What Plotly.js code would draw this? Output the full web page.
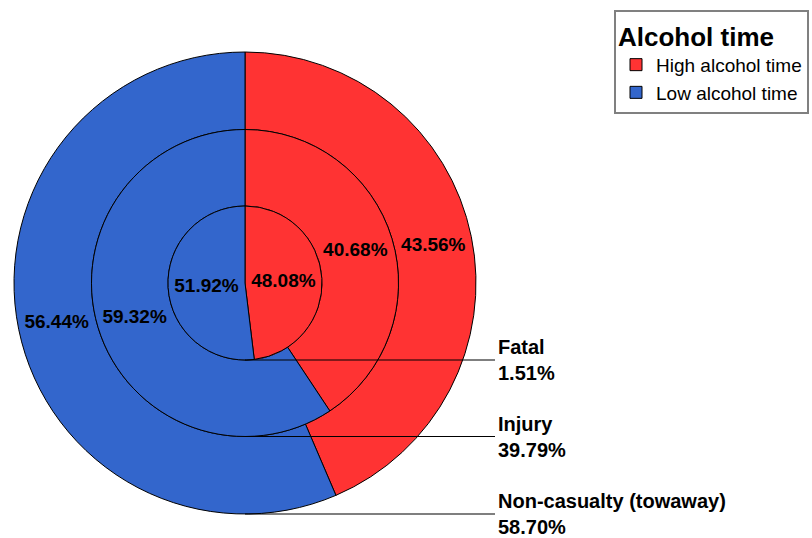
<!DOCTYPE html>
<html>
<head>
<meta charset="utf-8">
<script src="https://cdn.plot.ly/plotly-3.0.1.min.js"></script>
<style>html,body{margin:0;padding:0;background:#fff;}#chart{width:812px;height:538px;}</style>
</head>
<body>
<div id="chart"></div>
<script>
// ---- data ----
const rings = ['Fatal', 'Injury', 'Non-casualty (towaway)'];
const ringShare = [1.51, 39.79, 58.70];
const groups = ['High alcohol time', 'Low alcohol time'];
const highShare = [48.08, 40.68, 43.56];
const lowShare = [51.92, 59.32, 56.44];
const legendTitle = 'Alcohol time';

// ---- style / geometry ----
const W = 812, H = 538;
const CX = 245, CY = 283;          // pie centre in px
const RADII = [77, 153.5, 231];    // inner, middle, outer circle radius in px
const COLORS = ['#FF3333', '#3366CC'];
const FONT = 'Liberation Sans, Arial, sans-serif';

function domainFor(r) {
  return {
    x: [(CX - r) / W, (CX + r) / W],
    y: [1 - (CY + r) / H, 1 - (CY - r) / H]
  };
}

const traces = [];
for (let i = rings.length - 1; i >= 0; i--) {
  const r = RADII[i];
  const inner = i > 0 ? RADII[i - 1] : 0;
  traces.push({
    type: 'pie',
    name: rings[i],
    labels: groups,
    values: [highShare[i], lowShare[i]],
    sort: false,
    direction: 'clockwise',
    rotation: 0,
    hole: inner / r,
    domain: domainFor(r),
    marker: { colors: COLORS, line: { color: '#000000', width: 1 } },
    texttemplate: '%{value:.2f}%',
    textposition: 'inside',
    insidetextorientation: 'horizontal',
    insidetextfont: { family: FONT, size: 19, color: '#000000', weight: 'bold' },
    hoverinfo: 'skip',
    showlegend: true
  });
}

const shapes = [];
const annotations = [];
const LABEL_X = 496;
for (let i = 0; i < rings.length; i++) {
  const yb = CY + RADII[i];
  shapes.push({
    type: 'line', xref: 'paper', yref: 'paper',
    x0: CX / W, x1: (LABEL_X - 1) / W,
    y0: 1 - yb / H, y1: 1 - yb / H,
    line: { color: '#000000', width: 1.2 }
  });
  annotations.push({
    xref: 'paper', yref: 'paper',
    x: LABEL_X / W, y: 1 - yb / H,
    xanchor: 'left', yanchor: 'middle', align: 'left',
    showarrow: false,
    text: '<b>' + rings[i] + '</b><br><b>' + ringShare[i].toFixed(2) + '%</b>',
    font: { family: FONT, size: 20, color: '#000000' }
  });
}

const layout = {
  width: W, height: H,
  margin: { l: 0, r: 0, t: 0, b: 0 },
  paper_bgcolor: '#ffffff',
  plot_bgcolor: '#ffffff',
  showlegend: true,
  legend: {
    x: 614 / W, y: 1 - 10 / H, xanchor: 'left', yanchor: 'top',
    bgcolor: '#ffffff', bordercolor: '#808080', borderwidth: 2,
    font: { family: FONT, size: 19, color: '#000000' },
    title: { text: legendTitle, font: { family: FONT, size: 26, color: '#000000', weight: 'bold' } },
    traceorder: 'normal'
  },
  shapes: shapes,
  annotations: annotations
};

Plotly.newPlot('chart', traces, layout, { displayModeBar: false, staticPlot: true });
</script>
</body>
</html>
